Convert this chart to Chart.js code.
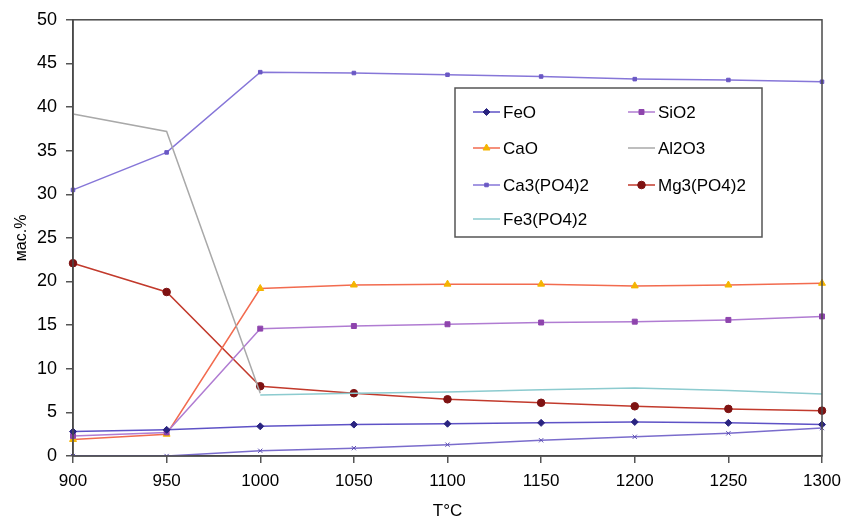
<!DOCTYPE html>
<html>
<head>
<meta charset="utf-8">
<script src="https://cdn.jsdelivr.net/npm/chart.js@4.4.1/dist/chart.umd.min.js"></script>
<style>
  html, body { margin: 0; padding: 0; background: #fff; }
  #wrap { width: 859px; height: 524px; }
</style>
</head>
<body>
<div id="wrap"><canvas id="c" width="859" height="524"></canvas></div>
<script>
// ---- data ----
const temps = [900, 950, 1000, 1050, 1100, 1150, 1200, 1250, 1300];
const yTicks = [0, 5, 10, 15, 20, 25, 30, 35, 40, 45, 50];
const feo   = [2.8, 3.0, 3.4, 3.6, 3.7, 3.8, 3.9, 3.8, 3.6];
const sio2  = [2.3, 2.7, 14.6, 14.9, 15.1, 15.3, 15.4, 15.6, 16.0];
const cao   = [1.9, 2.5, 19.2, 19.6, 19.7, 19.7, 19.5, 19.6, 19.8];
const al2o3 = [39.2, 37.2, 7.2, null, null, null, null, null, null];
const ca3po4 = [30.5, 34.8, 44.0, 43.9, 43.7, 43.5, 43.2, 43.1, 42.9];
const mg3po4 = [22.1, 18.8, 8.0, 7.2, 6.5, 6.1, 5.7, 5.4, 5.2];
const fe3po4 = [null, null, 7.0, 7.2, 7.35, 7.6, 7.8, 7.5, 7.1];
const extra  = [0, 0, 0.6, 0.9, 1.3, 1.8, 2.2, 2.6, 3.2];

const FONT = "'Liberation Sans', Arial, sans-serif";

function ds(label, data, line, mark, style, r, inLegend) {
  return {
    label, data,
    borderColor: line, backgroundColor: mark,
    pointBackgroundColor: mark, pointBorderColor: mark,
    pointStyle: style, pointRadius: r, pointHoverRadius: r,
    borderWidth: 1.5, pointBorderWidth: 1, tension: 0, spanGaps: false,
    inLegend: inLegend
  };
}

const datasets = [
  ds('Al2O3', al2o3, '#a9a9a9', '#a0a0a0', 'circle', 0, true),
  ds('Fe3(PO4)2', fe3po4, '#8ccbcf', '#8ccbcf', 'circle', 0, true),
  ds('', extra, '#7a6ccc', '#5a4cb0', 'crossRot', 3, false),
  ds('FeO', feo, '#5e52c6', '#2a2480', 'rectRot', 3.5, true),
  ds('SiO2', sio2, '#b07cd2', '#8e44ad', 'rect', 3.5, true),
  ds('CaO', cao, '#f26b4f', '#f5b400', 'triangle', 4, true),
  ds('Ca3(PO4)2', ca3po4, '#8676d8', '#6a58c4', 'rect', 2.5, true),
  ds('Mg3(PO4)2', mg3po4, '#c23a2c', '#7e1212', 'circle', 3.8, true)
];

const legendOrder = ['FeO', 'SiO2', 'CaO', 'Al2O3', 'Ca3(PO4)2', 'Mg3(PO4)2', 'Fe3(PO4)2'];

const frame = {
  id: 'frame',
  afterDraw(chart) {
    const a = chart.chartArea, ctx = chart.ctx;
    ctx.save();
    ctx.strokeStyle = '#4a4a4a';
    ctx.lineWidth = 1.5;
    ctx.strokeRect(a.left, a.top, a.right - a.left, a.bottom - a.top);
    // legend box
    const bx = 455, by = 88, bw = 307, bh = 149;
    ctx.fillStyle = '#fff';
    ctx.fillRect(bx, by, bw, bh);
    ctx.strokeStyle = '#555';
    ctx.lineWidth = 1.5;
    ctx.strokeRect(bx, by, bw, bh);
    const cols = [473, 628];
    const rows = [112, 148, 185, 219];
    ctx.font = '17px ' + FONT;
    ctx.textBaseline = 'middle';
    ctx.textAlign = 'left';
    legendOrder.forEach((name, i) => {
      const d = chart.data.datasets.find(x => x.label === name);
      const x0 = cols[i % 2], y = rows[Math.floor(i / 2)];
      ctx.strokeStyle = d.borderColor;
      ctx.lineWidth = 1.5;
      ctx.beginPath(); ctx.moveTo(x0, y); ctx.lineTo(x0 + 27, y); ctx.stroke();
      if (d.pointRadius > 0) {
        ctx.fillStyle = d.pointBackgroundColor;
        ctx.strokeStyle = d.pointBorderColor;
        ctx.lineWidth = 1;
        Chart.helpers.drawPoint(ctx, { pointStyle: d.pointStyle, radius: d.pointRadius, rotation: 0, borderWidth: 1 }, x0 + 13.5, y);
      }
      ctx.fillStyle = '#000';
      ctx.fillText(name, x0 + 30, y + 1);
    });
    ctx.restore();
  }
};

new Chart(document.getElementById('c'), {
  type: 'line',
  data: { labels: temps, datasets },
  plugins: [frame],
  options: {
    responsive: false,
    animation: false,
    layout: { padding: { left: 0, right: 37, top: 14, bottom: 0 } },
    plugins: { legend: { display: false }, tooltip: { enabled: false } },
    scales: {
      x: {
        type: 'category',
        offset: false,
        afterFit(s) { s.height = 68; },
        grid: { drawOnChartArea: false, drawTicks: true, tickLength: 7, color: '#555', lineWidth: 1.5 },
        border: { display: true, color: '#4a4a4a', width: 1.5 },
        ticks: { color: '#000', padding: 8, font: { family: FONT, size: 17 }, maxRotation: 0 },
        title: { display: true, text: 'T°C', color: '#000', font: { family: FONT, size: 17 }, padding: { top: 4, bottom: 2 } }
      },
      y: {
        min: 0, max: 50,
        afterFit(s) { s.width = 73; },
        afterBuildTicks(s) { s.ticks = yTicks.map(v => ({ value: v })); },
        grid: { drawOnChartArea: false, drawTicks: true, tickLength: 7, color: '#555', lineWidth: 1.5 },
        border: { display: true, color: '#4a4a4a', width: 1.5 },
        ticks: { color: '#000', padding: 9, font: { family: FONT, size: 18 } },
        title: { display: true, text: 'мас.%', color: '#000', font: { family: FONT, size: 16 }, padding: { top: 12, bottom: 0 } }
      }
    }
  }
});
</script>
</body>
</html>
